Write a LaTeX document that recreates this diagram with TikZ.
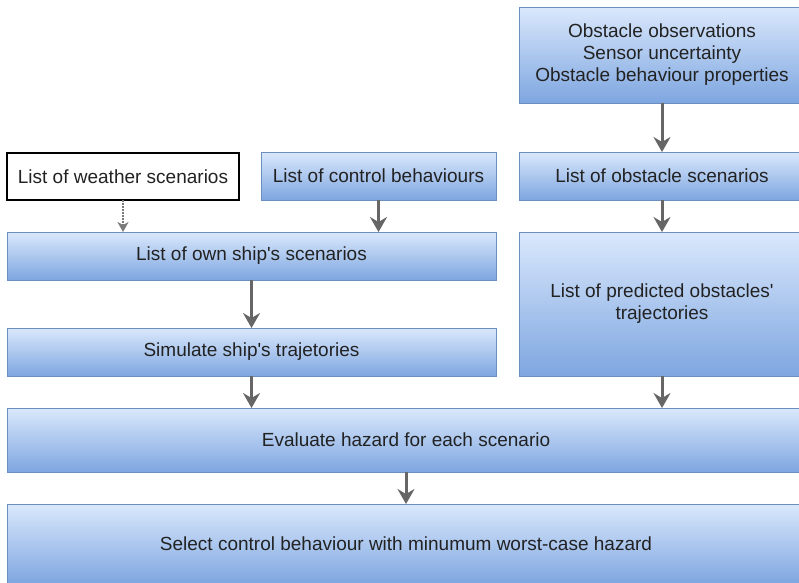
\documentclass[tikz,border=0pt]{standalone}
\usepackage{fontspec}
\setmainfont{Liberation Sans}
\usetikzlibrary{arrows.meta}
\definecolor{boxtop}{HTML}{DAE8FC}
\definecolor{boxbot}{HTML}{7EA6E0}
\definecolor{boxline}{HTML}{6C8EBF}
\definecolor{arrowgray}{HTML}{666666}
\definecolor{dashgray}{HTML}{7A7A7A}
\definecolor{textgray}{HTML}{222222}
\newcommand{\apos}{\textquotesingle}
\tikzset{
  flowbox/.style={rectangle, draw=boxline, line width=1pt, top color=boxtop, bottom color=boxbot,
    anchor=north west, inner sep=0pt, outer sep=0pt, align=center, text=textgray,
    font=\fontsize{19}{22}\selectfont},
  plainbox/.style={rectangle, draw=black, line width=1.4pt, fill=white,
    anchor=north west, inner sep=0pt, outer sep=0pt, align=center, text=textgray,
    font=\fontsize{19}{22}\selectfont},
  flowarrow/.style={draw=arrowgray, line width=3pt,
    -{Stealth[length=15pt, width=17pt, inset=5pt]}},
  dasharrow/.style={draw=dashgray, line width=2.2pt, dash pattern=on 1.6pt off 1.4pt,
    -{Stealth[length=10pt, width=11pt, inset=3pt, sep=0pt, fill=dashgray]}}
}
\begin{document}
\begin{tikzpicture}[x=1pt, y=-1pt]
  \path[use as bounding box] (0,0) rectangle (799,582);
  \clip (0,0) rectangle (799,582);

  % right column: obstacle inputs
  \node[flowbox, minimum width=286pt, minimum height=96pt] (obs) at (519,7)
    {Obstacle observations\\Sensor uncertainty\\Obstacle behaviour properties};
  \node[flowbox, minimum width=286pt, minimum height=48pt] (obsscen) at (519,152)
    {List of obstacle scenarios};
  \node[flowbox, minimum width=286pt, minimum height=144pt] (pred) at (519,232)
    {List of predicted obstacles\apos\\trajectories};

  % left column: own ship
  \node[plainbox, minimum width=232pt, minimum height=47pt] (weather) at (7,153)
    {List of weather scenarios};
  \node[flowbox, minimum width=235pt, minimum height=48pt] (ctrl) at (261,152)
    {List of control behaviours};
  \node[flowbox, minimum width=489pt, minimum height=48pt] (own) at (7,232)
    {List of own ship\apos s scenarios};
  \node[flowbox, minimum width=489pt, minimum height=48pt] (sim) at (7,328)
    {Simulate ship\apos s trajetories};

  % full-width steps
  \node[flowbox, minimum width=798pt, minimum height=64pt] (eval) at (7,408)
    {Evaluate hazard for each scenario};
  \node[flowbox, minimum width=798pt, minimum height=80pt] (select) at (7,504)
    {Select control behaviour with minumum worst-case hazard};

  % connectors
  \draw[flowarrow] (obs.south) -- (obs.south |- obsscen.north);
  \draw[flowarrow] (obsscen.south) -- (obsscen.south |- pred.north);
  \draw[flowarrow] (pred.south) -- (pred.south |- eval.north);
  \draw[dasharrow] (weather.south) -- (weather.south |- own.north);
  \draw[flowarrow] (ctrl.south) -- (ctrl.south |- own.north);
  \draw[flowarrow] (own.south) -- (own.south |- sim.north);
  \draw[flowarrow] (sim.south) -- (sim.south |- eval.north);
  \draw[flowarrow] (eval.south) -- (eval.south |- select.north);
\end{tikzpicture}
\end{document}
